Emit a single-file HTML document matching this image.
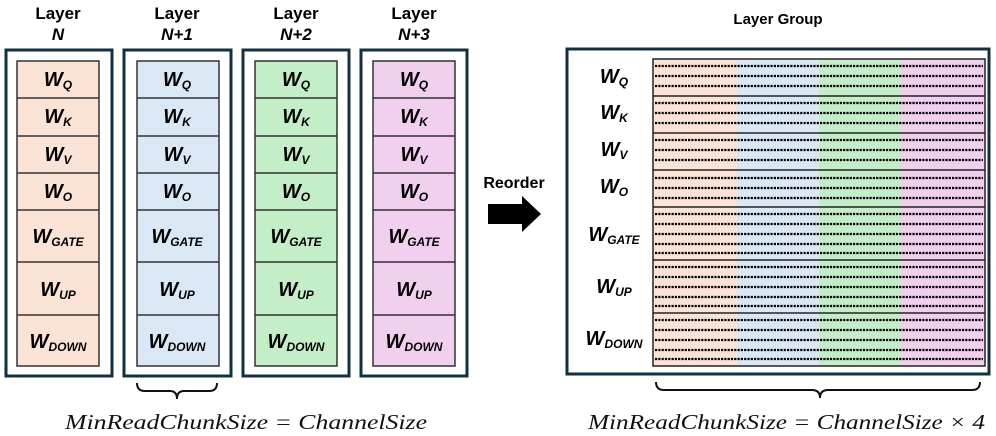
<!DOCTYPE html>
<html><head><meta charset="utf-8"><style>
html,body{margin:0;padding:0;background:#fff;}
svg{display:block;}
.h{font-family:"Liberation Sans",sans-serif;font-weight:bold;font-size:17px;fill:#000;text-anchor:middle;}
.w{font-family:"Liberation Sans",sans-serif;font-weight:bold;font-style:italic;fill:#000;}
.m{font-family:"Liberation Serif",serif;font-style:italic;font-size:21px;fill:#111;}
</style></head><body>
<svg width="996" height="436" viewBox="0 0 996 436" xmlns="http://www.w3.org/2000/svg">
<text class="h" x="58" y="19">Layer</text><text class="h" x="58" y="40" font-style="italic">N</text>
<text class="h" x="177" y="19">Layer</text><text class="h" x="177" y="40" font-style="italic">N+1</text>
<text class="h" x="296" y="19">Layer</text><text class="h" x="296" y="40" font-style="italic">N+2</text>
<text class="h" x="414" y="19">Layer</text><text class="h" x="414" y="40" font-style="italic">N+3</text>
<text class="h" x="778" y="24" style="font-size:15px">Layer Group</text>
<text class="h" x="514" y="188" style="font-size:16px">Reorder</text>

<g fill="none" stroke="#12303f" stroke-width="3">
<rect x="6" y="50" width="106" height="326"/>
<rect x="124" y="50" width="107" height="326"/>
<rect x="243" y="50" width="106" height="326"/>
<rect x="361" y="50" width="106" height="326"/>
<rect x="567" y="49" width="422" height="325"/>
</g>

<g stroke="#333" stroke-width="1.5">
<rect x="17" y="61" width="82" height="305" fill="#fbe3d6"/>
<rect x="137" y="61" width="82" height="305" fill="#dae8f6"/>
<rect x="255" y="61" width="82" height="305" fill="#c3eec8"/>
<rect x="373" y="61" width="82" height="305" fill="#f1cfee"/>
</g>
<g stroke="#333" stroke-width="1.5">
<path d="M17 98H99M17 136H99M17 173H99M17 210H99M17 262H99M17 315H99"/>
<path d="M137 98H219M137 136H219M137 173H219M137 210H219M137 262H219M137 315H219"/>
<path d="M255 98H337M255 136H337M255 173H337M255 210H337M255 262H337M255 315H337"/>
<path d="M373 98H455M373 136H455M373 173H455M373 210H455M373 262H455M373 315H455"/>
</g>

<g class="w">
<g id="col">
<text x="58" y="86" text-anchor="middle" font-size="20">W<tspan font-size="12" dy="3">Q</tspan></text>
<text x="58" y="123" text-anchor="middle" font-size="20">W<tspan font-size="12" dy="3">K</tspan></text>
<text x="58" y="161" text-anchor="middle" font-size="20">W<tspan font-size="12" dy="3">V</tspan></text>
<text x="58" y="198" text-anchor="middle" font-size="20">W<tspan font-size="12" dy="3">O</tspan></text>
<text x="58" y="243" text-anchor="middle" font-size="20">W<tspan font-size="12" dy="3">GATE</tspan></text>
<text x="58" y="296" text-anchor="middle" font-size="20">W<tspan font-size="12" dy="3">UP</tspan></text>
<text x="58" y="348" text-anchor="middle" font-size="20">W<tspan font-size="12" dy="3">DOWN</tspan></text>
</g>
<use href="#col" x="119"/>
<use href="#col" x="238"/>
<use href="#col" x="356"/>
</g>

<polygon points="488,204 522,204 522,196 541,214 522,232 522,224 488,224" fill="#000"/>

<rect x="653" y="59" width="84" height="307" fill="#fbe3d6"/>
<rect x="737" y="59" width="82" height="307" fill="#dae8f6"/>
<rect x="819" y="59" width="82" height="307" fill="#c3eec8"/>
<rect x="901" y="59" width="84" height="307" fill="#f1cfee"/>
<g stroke="#000" stroke-width="2.2" stroke-dasharray="2.2 1.1" fill="none">
<path d="M655 66H983M655 76H983M655 86H983
M655 103H983M655 113H983M655 123H983
M655 140H983M655 150H983M655 160H983
M655 178H983M655 188H983M655 198H983
M655 214H983M655 224H983M655 234H983M655 244H983M655 253H983
M655 267H983M655 277H983M655 287H983M655 297H983M655 306H983
M655 320H983M655 330H983M655 340H983M655 350H983M655 359H983"/>
</g>
<g stroke="#222" stroke-width="1.5" fill="none">
<rect x="653" y="59" width="332" height="307"/>
<path d="M653 96H985M653 133H985M653 170H985M653 207H985M653 260H985M653 313H985"/>
</g>
<g class="w">
<text x="614" y="83" text-anchor="middle" font-size="20">W<tspan font-size="12" dy="3">Q</tspan></text>
<text x="614" y="119" text-anchor="middle" font-size="20">W<tspan font-size="12" dy="3">K</tspan></text>
<text x="614" y="156" text-anchor="middle" font-size="20">W<tspan font-size="12" dy="3">V</tspan></text>
<text x="614" y="193" text-anchor="middle" font-size="20">W<tspan font-size="12" dy="3">O</tspan></text>
<text x="614" y="241" text-anchor="middle" font-size="20">W<tspan font-size="12" dy="3">GATE</tspan></text>
<text x="614" y="293" text-anchor="middle" font-size="20">W<tspan font-size="12" dy="3">UP</tspan></text>
<text x="614" y="345" text-anchor="middle" font-size="20">W<tspan font-size="12" dy="3">DOWN</tspan></text>
</g>

<g fill="none" stroke="#111" stroke-width="2">
<path d="M137 383 Q137 391 145 391 H170 Q177 391 177 399 Q177 391 184 391 H209 Q217 391 217 383"/>
<path d="M656 382 Q656 390 664 390 H812 Q820 390 820 398 Q820 390 828 390 H972 Q980 390 980 382"/>
</g>

<text class="m" x="65" y="429" textLength="362" lengthAdjust="spacingAndGlyphs">MinReadChunkSize = ChannelSize</text>
<text class="m" x="588" y="429" textLength="397" lengthAdjust="spacingAndGlyphs">MinReadChunkSize = ChannelSize × 4</text>
</svg>
</body></html>
